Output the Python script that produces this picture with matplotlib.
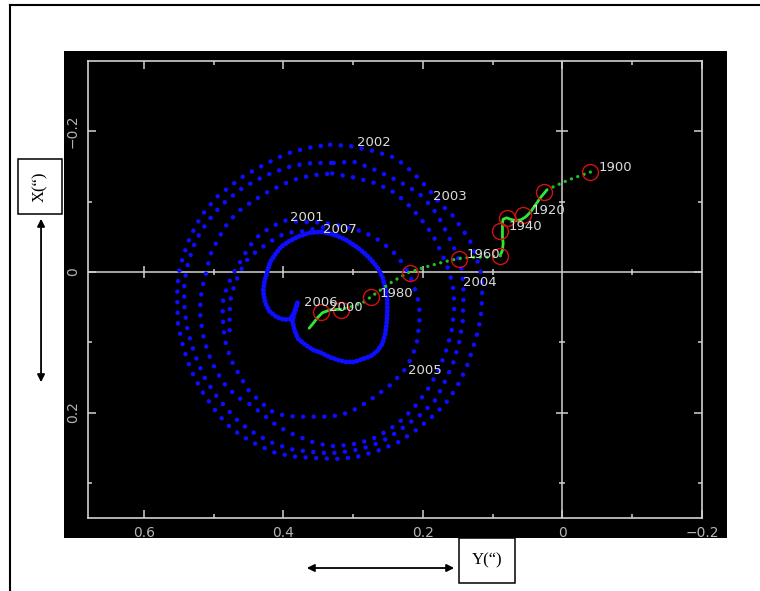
import matplotlib.pyplot as plt
from matplotlib.patches import Rectangle, FancyArrowPatch
from matplotlib.lines import Line2D

# pole path 2001-2007, (y, x) in arcsec, one list per loop
ring1 = [(0.333, -0.181), (0.304, -0.179), (0.271, -0.172), (0.239, -0.162), (0.215, -0.142),
         (0.194, -0.120), (0.175, -0.097), (0.158, -0.081), (0.143, -0.060), (0.132, -0.043),
         (0.123, -0.020), (0.116, 0.004), (0.115, 0.028), (0.116, 0.054), (0.120, 0.080),
         (0.128, 0.108), (0.138, 0.137), (0.152, 0.165), (0.169, 0.189), (0.189, 0.208),
         (0.211, 0.226), (0.235, 0.242), (0.261, 0.253), (0.290, 0.262), (0.318, 0.266),
         (0.350, 0.265), (0.381, 0.263), (0.410, 0.258), (0.437, 0.246), (0.462, 0.232),
         (0.483, 0.215), (0.500, 0.194), (0.515, 0.172), (0.528, 0.149), (0.538, 0.125),
         (0.545, 0.101), (0.551, 0.075), (0.552, 0.047), (0.552, 0.021), (0.549, -0.003),
         (0.543, -0.024), (0.535, -0.046), (0.525, -0.067), (0.512, -0.087), (0.495, -0.107),
         (0.476, -0.122), (0.456, -0.137), (0.434, -0.149), (0.411, -0.161), (0.387, -0.171),
         (0.361, -0.177)]
ring2 = [(0.328, -0.155), (0.300, -0.157), (0.275, -0.148), (0.247, -0.135), (0.222, -0.122),
         (0.204, -0.110), (0.186, -0.091), (0.173, -0.070), (0.162, -0.048), (0.152, -0.027),
         (0.145, -0.006), (0.142, 0.019), (0.142, 0.044), (0.143, 0.071), (0.148, 0.100),
         (0.156, 0.128), (0.168, 0.155), (0.182, 0.182), (0.202, 0.202), (0.225, 0.219),
         (0.249, 0.236), (0.275, 0.248), (0.304, 0.255), (0.333, 0.258), (0.361, 0.256),
         (0.390, 0.252), (0.416, 0.243), (0.439, 0.231), (0.462, 0.215), (0.480, 0.196),
         (0.497, 0.175), (0.512, 0.152), (0.523, 0.128), (0.532, 0.102), (0.539, 0.075),
         (0.542, 0.047), (0.542, 0.021), (0.539, -0.003), (0.533, -0.024), (0.525, -0.046),
         (0.513, -0.065), (0.499, -0.084), (0.482, -0.101), (0.462, -0.117), (0.440, -0.130),
         (0.416, -0.141), (0.387, -0.151), (0.358, -0.155)]
ring3 = [(0.330, -0.140), (0.297, -0.134), (0.271, -0.127), (0.247, -0.117), (0.225, -0.100),
         (0.204, -0.077), (0.186, -0.053), (0.172, -0.024), (0.162, 0.000), (0.156, 0.026),
         (0.155, 0.051), (0.158, 0.080), (0.165, 0.107), (0.175, 0.134), (0.189, 0.161),
         (0.206, 0.185), (0.227, 0.208), (0.249, 0.225), (0.275, 0.239), (0.304, 0.246),
         (0.333, 0.248), (0.358, 0.242), (0.386, 0.231), (0.409, 0.219), (0.430, 0.202),
         (0.447, 0.189), (0.466, 0.178), (0.483, 0.161), (0.497, 0.140), (0.508, 0.115),
         (0.515, 0.090), (0.519, 0.065), (0.519, 0.040), (0.516, 0.021), (0.510, -0.001),
         (0.505, -0.024), (0.493, -0.048), (0.479, -0.071), (0.462, -0.088), (0.442, -0.102),
         (0.422, -0.114), (0.400, -0.125), (0.376, -0.134), (0.353, -0.138)]
ring4 = [(0.397, -0.073), (0.368, -0.071), (0.343, -0.070), (0.315, -0.065), (0.285, -0.057),
         (0.261, -0.044), (0.242, -0.028), (0.228, -0.011), (0.218, 0.007), (0.211, 0.026),
         (0.205, 0.047), (0.205, 0.071), (0.208, 0.097), (0.215, 0.120), (0.228, 0.142),
         (0.247, 0.161), (0.268, 0.177), (0.294, 0.194), (0.318, 0.204), (0.344, 0.206),
         (0.373, 0.206), (0.397, 0.205), (0.417, 0.198), (0.434, 0.184), (0.450, 0.168),
         (0.463, 0.147), (0.475, 0.125), (0.482, 0.104), (0.486, 0.080), (0.487, 0.057),
         (0.486, 0.037), (0.480, 0.020), (0.473, 0.004), (0.462, -0.014), (0.449, -0.036),
         (0.434, -0.053), (0.416, -0.065)]
arc5 = [(0.477, 0.083), (0.477, 0.057), (0.475, 0.034), (0.469, 0.016), (0.462, -0.001),
        (0.452, -0.017), (0.440, -0.028), (0.426, -0.038), (0.411, -0.048), (0.399, -0.054),
        (0.384, -0.057), (0.370, -0.058), (0.356, -0.061), (0.341, -0.064)]
loop6 = [(0.380, 0.044), (0.384, 0.057), (0.387, 0.070), (0.384, 0.083), (0.379, 0.095),
         (0.368, 0.104), (0.357, 0.111), (0.346, 0.115), (0.334, 0.121), (0.323, 0.125),
         (0.311, 0.128), (0.298, 0.128), (0.287, 0.124), (0.275, 0.120), (0.265, 0.112),
         (0.258, 0.102), (0.254, 0.088), (0.252, 0.073), (0.251, 0.057), (0.251, 0.040),
         (0.254, 0.023), (0.258, 0.007), (0.265, -0.006), (0.274, -0.017), (0.284, -0.027),
         (0.297, -0.037), (0.311, -0.046), (0.327, -0.053), (0.344, -0.057), (0.361, -0.056),
         (0.377, -0.051), (0.391, -0.044), (0.403, -0.036), (0.411, -0.026), (0.419, -0.014),
         (0.423, -0.001), (0.427, 0.013), (0.429, 0.028), (0.426, 0.044), (0.420, 0.056),
         (0.410, 0.064), (0.399, 0.068), (0.390, 0.067), (0.384, 0.057), (0.380, 0.045)]

# mean pole drift 1900-2006
drift_a = [(-0.040, -0.142), (-0.009, -0.131), (0.022, -0.117)]
drift_b = [(0.022, -0.117), (0.032, -0.105), (0.039, -0.095), (0.046, -0.085), (0.053, -0.078),
           (0.060, -0.074), (0.067, -0.073), (0.075, -0.075), (0.080, -0.077), (0.085, -0.075),
           (0.086, -0.070), (0.086, -0.060), (0.086, -0.050), (0.085, -0.041), (0.086, -0.031),
           (0.089, -0.024)]
drift_c = [(0.089, -0.023), (0.108, -0.021), (0.128, -0.021), (0.149, -0.019), (0.171, -0.014),
           (0.196, -0.007), (0.221, 0.001), (0.244, 0.014), (0.264, 0.028), (0.285, 0.043),
           (0.304, 0.050), (0.318, 0.053)]
drift_d = [(0.318, 0.053), (0.333, 0.054), (0.344, 0.058), (0.351, 0.065), (0.358, 0.074),
           (0.363, 0.080)]

decade_years = [1900, 1910, 1920, 1930, 1940, 1950, 1960, 1970, 1980, 1990, 2000]
decade_y = [-0.040, 0.026, 0.056, 0.080, 0.089, 0.089, 0.149, 0.219, 0.274, 0.318, 0.346]
decade_x = [-0.142, -0.114, -0.081, -0.077, -0.058, -0.023, -0.019, 0.001, 0.036, 0.054, 0.057]
labelled_years = [1900, 1920, 1940, 1960, 1980, 2000]

# start-of-year pole positions on the loops
year_marks = {2001: (0.391, -0.078), 2002: (0.294, -0.184), 2003: (0.185, -0.107),
              2004: (0.142, 0.015), 2005: (0.222, 0.140), 2006: (0.371, 0.043),
              2007: (0.343, -0.060)}

x_major = [0.6, 0.4, 0.2, 0.0, -0.2]
x_minor = [0.5, 0.3, 0.1, -0.1]
y_major = [-0.2, 0.0, 0.2]
y_minor = [-0.1, 0.1, 0.3]

BLUE = "#0d0dff"
GREY = "#d2d2d2"


def trace(ax, pts, color, lw, gap=None, closed=False, z=3):
    if closed:
        pts = pts + pts[:1]
    ys, xs = zip(*pts)
    if gap is None:
        ax.plot(ys, xs, color=color, lw=lw, solid_capstyle="round",
                solid_joinstyle="round", zorder=z)
    else:
        ax.plot(ys, xs, color=color, lw=lw, ls=(0, (0.01, gap)),
                dash_capstyle="round", zorder=z)


def main():
    fig = plt.figure(figsize=(7.6, 5.91), dpi=100)
    fig.patch.set_facecolor("white")

    # page frame
    fig.add_artist(Line2D([10 / 760, 1.0], [586 / 591, 586 / 591], color="black", lw=1.5))
    fig.add_artist(Line2D([10 / 760, 10 / 760], [0.0, 586 / 591], color="black", lw=1.5))

    fig.add_artist(Rectangle((0.0842, 0.0897), 0.8724, 0.8240, transform=fig.transFigure,
                             facecolor="black", edgecolor="none", zorder=0))

    ax = fig.add_axes([0.1158, 0.1235, 0.8079, 0.7733])
    ax.set_facecolor("black")
    ax.set_xlim(0.68, -0.2)
    ax.set_ylim(0.35, -0.3)

    ax.set_xticks(x_major)
    ax.set_xticks(x_minor, minor=True)
    ax.set_yticks(y_major)
    ax.set_yticks(y_minor, minor=True)
    ax.set_xticklabels(["0.6", "0.4", "0.2", "0", "\u22120.2"])
    ax.set_yticklabels(["\u22120.2", "0", "0.2"])
    ax.tick_params(which="both", direction="in", top=True, right=True, color=GREY,
                   width=1.1, labelcolor="#b4b4b4", labelsize=10)
    ax.tick_params(which="major", length=6, pad=6)
    ax.tick_params(which="minor", length=3)
    ax.tick_params(axis="y", labelrotation=90)
    for lab in ax.get_yticklabels():
        lab.set_va("center")
    for sp in ax.spines.values():
        sp.set_color(GREY)
        sp.set_linewidth(1.2)

    # cross through the origin with its own ticks
    ax.axhline(0, color=GREY, lw=1.1, zorder=1)
    ax.axvline(0, color=GREY, lw=1.1, zorder=1)
    ax.plot(x_major[:3], [0] * 3, ls="none", marker="|", ms=9, mew=1.1, color=GREY, zorder=1)
    ax.plot(x_minor, [0] * 4, ls="none", marker="|", ms=5, mew=1.1, color=GREY, zorder=1)
    ax.plot([0, 0], [-0.2, 0.2], ls="none", marker="_", ms=9, mew=1.1, color=GREY, zorder=1)
    ax.plot([0] * 3, y_minor, ls="none", marker="_", ms=5, mew=1.1, color=GREY, zorder=1)

    # pole path: sparse loops, then the tight 2006-2007 loop as packed beads
    for ring in (ring1, ring2, ring3, ring4):
        trace(ax, ring, BLUE, 3.3, gap=2.3, closed=True)
    trace(ax, arc5, BLUE, 3.3, gap=2.3)
    trace(ax, loop6, BLUE, 3.6, gap=0.75)

    # mean pole
    trace(ax, drift_a, "#22c022", 2.4, gap=2.0, z=4)
    trace(ax, drift_b, "#33e633", 2.0, z=4)
    trace(ax, drift_c, "#22c022", 2.4, gap=2.0, z=4)
    trace(ax, drift_d, "#33e633", 2.0, z=4)
    ax.plot(decade_y, decade_x, ls="none", marker="o", ms=11.5, mfc="none",
            mec="#d41010", mew=1.0, zorder=5)

    for yr, yy, xx in zip(decade_years, decade_y, decade_x):
        if yr in labelled_years:
            ax.annotate(str(yr), (yy, xx), xytext=(6, 3), textcoords="offset points",
                        ha="left", va="center", color="#dcdcdc", fontsize=9.5, zorder=6)
    for yr, (yy, xx) in year_marks.items():
        ax.text(yy, xx, str(yr), ha="left", va="center", color="#dcdcdc",
                fontsize=9.5, zorder=6)

    # axis captions in boxes with arrows
    fig.add_artist(Rectangle((0.0237, 0.6379), 0.0579, 0.0931, transform=fig.transFigure,
                             facecolor="white", edgecolor="black", lw=1.1, zorder=3))
    fig.text(0.0526, 0.6844, "X(\u201c)", rotation=90, ha="center", va="center",
             family="Liberation Serif", fontsize=12, zorder=4)
    fig.add_artist(Rectangle((0.6039, 0.0135), 0.0737, 0.0761, transform=fig.transFigure,
                             facecolor="white", edgecolor="black", lw=1.1, zorder=3))
    fig.text(0.6408, 0.0516, "Y(\u201c)", ha="center", va="center",
             family="Liberation Serif", fontsize=12, zorder=4)

    fig.add_artist(FancyArrowPatch((0.0540, 0.6345), (0.0540, 0.3486),
                                   transform=fig.transFigure, arrowstyle="<|-|>",
                                   mutation_scale=11, lw=1.3, color="black"))
    fig.add_artist(FancyArrowPatch((0.400, 0.0389), (0.6013, 0.0389),
                                   transform=fig.transFigure, arrowstyle="<|-|>",
                                   mutation_scale=11, lw=1.3, color="black"))

    fig.savefig("out.png", dpi=100)


if __name__ == "__main__":
    main()
